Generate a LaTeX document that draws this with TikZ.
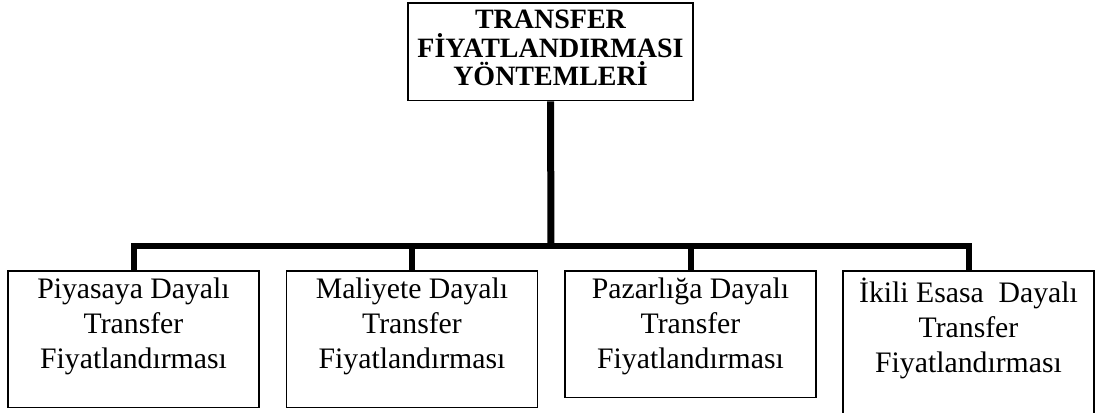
\documentclass[tikz,border=0pt]{standalone}
\usepackage{fontspec}
\setmainfont{Liberation Serif}
\usepackage{tikz}

\begin{document}
\begin{tikzpicture}[x=0.75pt,y=-0.75pt,
    topbox/.style={draw,line width=1.2pt,align=center,anchor=north,
      font=\fontsize{21}{21.4}\selectfont\bfseries,
      minimum width=213.75pt,inner ysep=5.5pt,text depth=5.6pt},
    subbox/.style={draw,line width=1.2pt,align=center,anchor=north,
      font=\fontsize{22.3}{26}\selectfont,
      minimum width=188.25pt,inner ysep=5.5pt},
    conn/.style={line width=4.5pt}]
      \useasboundingbox (0,0) rectangle (1095,412);
      \node[topbox] (top) at (550.5,2) {TRANSFER\\FİYATLANDIRMASI\\YÖNTEMLERİ};
      \node[subbox,text depth=24pt] (piyasa) at (133.5,270) {Piyasaya Dayalı\\Transfer\\Fiyatlandırması};
      \node[subbox,text depth=24pt] (maliyet) at (412,270) {Maliyete Dayalı\\Transfer\\Fiyatlandırması};
      \node[subbox,text depth=16.5pt] (pazarlik) at (690.5,270) {Pazarlığa Dayalı\\Transfer\\Fiyatlandırması};
      \node[subbox,text depth=25.5pt] (ikili) at (968.5,270) {İkili Esasa~ Dayalı\\Transfer\\Fiyatlandırması};
      \coordinate (bus) at (551,246);
      \draw[conn,line width=5.25pt] (top.south) -- (bus);
      \draw[conn] (piyasa.north) |- (bus) -| (ikili.north);
      \draw[conn] (maliyet.north) -- (maliyet.north |- bus);
      \draw[conn] (pazarlik.north) -- (pazarlik.north |- bus);
    \end{tikzpicture}
\end{document}
